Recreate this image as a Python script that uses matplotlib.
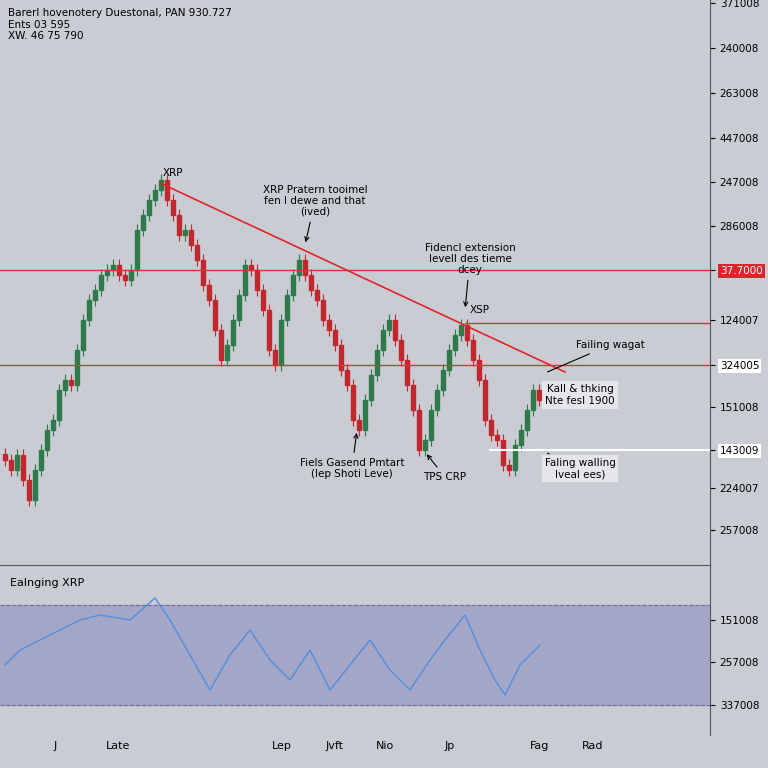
import matplotlib
matplotlib.use("Agg")
import matplotlib.pyplot as plt
from matplotlib.patches import Rectangle

# candle closes (pixel-like price units, higher = up)
closes_px = [460, 470, 455, 480, 500, 470, 450, 430, 420, 390, 380, 385, 350, 320, 300,
             290, 275, 270, 265, 275, 280, 270, 230, 215, 200, 190, 180, 200, 215, 235,
             230, 245, 260, 285, 300, 330, 360, 345, 320, 295, 265, 270, 290, 310, 350,
             365, 320, 295, 275, 260, 275, 290, 300, 320, 330, 345, 370, 385, 420, 430,
             400, 375, 350, 330, 320, 340, 360, 385, 410, 450, 440, 410, 390, 370, 350,
             335, 325, 340, 360, 380, 420, 435, 440, 465, 470, 445, 430, 410, 390, 400]
osc_x = [5, 20, 50, 80, 100, 130, 155, 170, 190, 210, 230, 250, 270, 290, 310, 330, 350,
         370, 390, 410, 430, 445, 465, 480, 495, 505, 520, 540]
osc_y = [665, 650, 635, 620, 615, 620, 598, 620, 655, 690, 655, 630, 660, 680, 650, 690,
         665, 640, 670, 690, 660, 640, 615, 650, 680, 695, 665, 645]
main_tick_px = [3, 48, 93, 138, 182, 226, 270, 320, 365, 407, 450, 488, 530]
main_tick_lbl = ["371008", "240008", "263008", "447008", "247008", "286008", "37.7000",
                 "124007", "324005", "151008", "143009", "224007", "257008"]
low_tick_px = [620, 662, 705]
low_tick_lbl = ["151008", "257008", "337008"]
x_lbl_px = [55, 118, 282, 335, 385, 450, 540, 593]
x_lbl = ["J", "Late", "Lep", "Jvft", "Nio", "Jp", "Fag", "Rad"]

H = 565
BG = "#c9ccd3"
UP, DN = "#2f7a4a", "#c1272d"

fig = plt.figure(figsize=(7.68, 7.68), dpi=100, facecolor=BG)
ax = fig.add_axes([0, 1 - 565 / 768, 710 / 768, 565 / 768], facecolor=BG)
ax.set_xlim(0, 710)
ax.set_ylim(0, H)

prev = H - closes_px[0] + 6
for i, cpx in enumerate(closes_px):
    x = 5 + 6 * i
    c = H - cpx
    o = prev
    col = UP if c >= o else DN
    ax.vlines(x, min(o, c) - 6, max(o, c) + 6, color=col, lw=0.8)
    ax.add_patch(Rectangle((x - 2, min(o, c)), 4, max(abs(c - o), 1.5), color=col))
    prev = c

ax.axhline(H - 270, color="#d8353a", lw=1)
ax.axhline(H - 365, color="#d8353a", lw=1)
ax.plot([465, 710], [H - 323, H - 323], color="#d8353a", lw=1)
ax.plot([490, 710], [H - 450, H - 450], color="white", lw=1.5)
ax.plot([160, 565], [H - 183, H - 372], color="#e0252b", lw=1.2)

for s, xy in [("XRP", (163, 176))]:
    ax.text(xy[0], H - xy[1], s, fontsize=7.5)
kw = dict(fontsize=7.5, va="top", ha="center", linespacing=1.1)
ax.annotate("XRP Pratern tooimel\nfen I dewe and that\n(ived)", xy=(305, H - 245),
            xytext=(315, H - 185), arrowprops=dict(arrowstyle="->", lw=0.8), **kw)
ax.annotate("Fidencl extension\nlevell des tieme\ndcey", xy=(465, H - 310),
            xytext=(470, H - 243), arrowprops=dict(arrowstyle="->", lw=0.8), **kw)
ax.text(470, H - 310, "XSP", fontsize=7.5, va="center")
ax.annotate("Failing wagat", xy=(545, H - 373), xytext=(610, H - 340),
            arrowprops=dict(arrowstyle="-", lw=0.8), **kw)
ax.text(580, H - 395, "Kall & thking\nNte fesl 1900", fontsize=7.5, va="center", ha="center",
        bbox=dict(fc="#e4e6ea", ec="none", pad=2))
ax.annotate("Fiels Gasend Pmtart\n(Iep Shoti Leve)", xy=(357, H - 430),
            xytext=(352, H - 458), arrowprops=dict(arrowstyle="->", lw=0.8), **kw)
ax.annotate("TPS CRP", xy=(425, H - 452), xytext=(445, H - 472),
            arrowprops=dict(arrowstyle="->", lw=0.8), **kw)
ax.annotate("Faling walling\nlveal ees)", xy=(545, H - 452), xytext=(580, H - 458),
            arrowprops=dict(arrowstyle="-", lw=0.8), fontsize=7.5, va="top", ha="center",
            bbox=dict(fc="#e4e6ea", ec="none", pad=2))
ax.text(8, H - 8, "Barerl hovenotery Duestonal, PAN 930.727\nEnts 03 595\nXW. 46 75 790",
        fontsize=7.5, va="top", linespacing=1.2)

ax.yaxis.tick_right()
ax.set_yticks([H - p for p in main_tick_px])
ax.set_yticklabels(main_tick_lbl, fontsize=7.5)
ax.set_xticks([])
for t in ax.get_yticklabels():
    if t.get_text() == "37.7000":
        t.set_color("white")
        t.set_bbox(dict(fc="#d8262b", ec="none", pad=1.5))
    elif t.get_text() in ("324005", "143009"):
        t.set_bbox(dict(fc="white", ec="none", pad=1.5))
for s in ["top", "left", "bottom"]:
    ax.spines[s].set_visible(False)
ax.spines["right"].set_color("#555")

lo = fig.add_axes([0, 33 / 768, 710 / 768, 170 / 768], facecolor=BG)
lo.set_xlim(0, 710)
lo.set_ylim(-735, -565)
lo.axhspan(-705, -605, color="#a3a6c6")
lo.axhline(-605, color="#6a6fa0", ls="--", lw=0.8)
lo.axhline(-705, color="#6a6fa0", ls="--", lw=0.8)
lo.plot(osc_x, [-v for v in osc_y], color="#4f8ee0", lw=1)
lo.text(10, -583, "Ealnging XRP", fontsize=8, va="center")
lo.yaxis.tick_right()
lo.set_yticks([-p for p in low_tick_px])
lo.set_yticklabels(low_tick_lbl, fontsize=7.5)
lo.set_xticks(x_lbl_px)
lo.set_xticklabels(x_lbl, fontsize=8)
lo.tick_params(axis="x", length=0, pad=4)
for s in ["left", "bottom"]:
    lo.spines[s].set_visible(False)
lo.spines["top"].set_color("#555")
lo.spines["right"].set_color("#555")

fig.savefig("out.png", dpi=100, facecolor=BG)
